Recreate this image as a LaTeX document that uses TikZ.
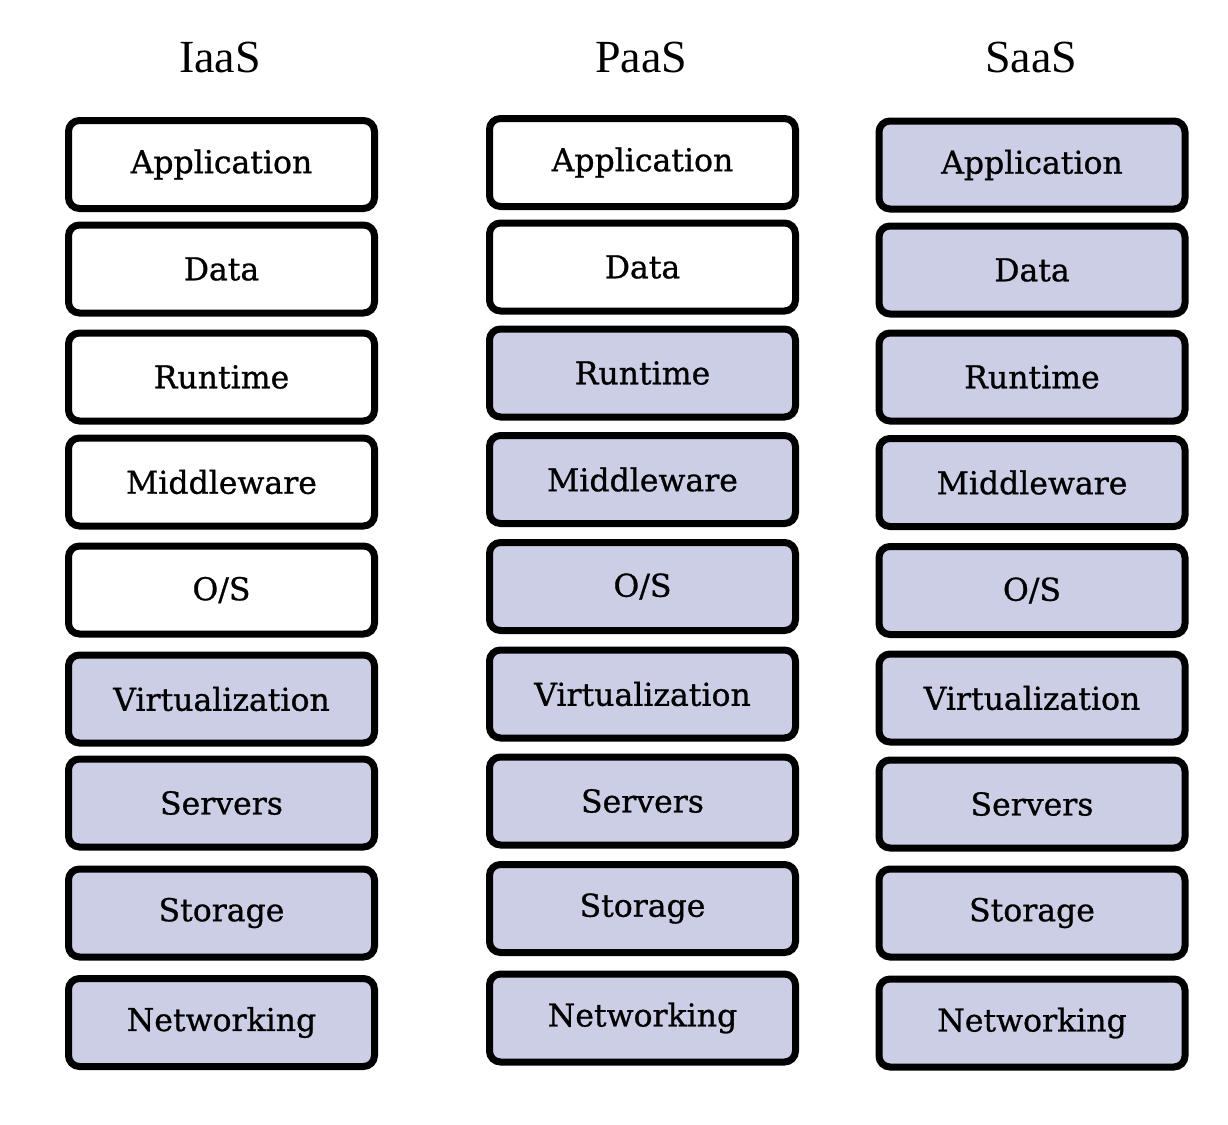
\documentclass[tikz,border=0pt]{standalone}
\usepackage{fontspec}
\setmainfont{DejaVu Serif}
\newfontfamily\boxfont[FakeBold=0.8]{DejaVu Serif}
\newfontfamily\titlefont{Liberation Serif}
\definecolor{lav}{RGB}{204,206,230}
\begin{document}
\begin{tikzpicture}[x=1pt,y=-1pt,
  box/.style={draw=black, line width=7pt, rounded corners=11pt,
    minimum width=306pt, minimum height=88pt, inner sep=0pt,
    font=\boxfont\fontsize{31.5}{33}\selectfont},
  mine/.style={box, fill=white},
  prov/.style={box, fill=lav},
  ttl/.style={font=\titlefont\fontsize{46}{48}\selectfont, inner sep=0pt}]
\useasboundingbox (0,0) rectangle (1228,1124);
\node[ttl] (tI) at (220,57) {IaaS};
\node[ttl] (tP) at (641,57) {PaaS};
\node[ttl] (tS) at (1031,57) {SaaS};
% IaaS
\node[mine] (i1) at (221.5,164.5) {Application};
\node[mine] (i2) at (221.5,269) {Data};
\node[mine] (i3) at (221.5,377) {Runtime};
\node[mine] (i4) at (221.5,482) {Middleware};
\node[mine] (i5) at (221.5,590) {O/S};
\node[prov] (i6) at (221.5,699) {Virtualization};
\node[prov] (i7) at (221.5,803) {Servers};
\node[prov] (i8) at (221.5,913) {Storage};
\node[prov] (i9) at (221.5,1022.5) {Networking};
% PaaS
\node[mine] (p1) at (642.5,162.5) {Application};
\node[mine] (p2) at (642.5,267) {Data};
\node[prov] (p3) at (642.5,373) {Runtime};
\node[prov] (p4) at (642.5,479.5) {Middleware};
\node[prov] (p5) at (642.5,586.5) {O/S};
\node[prov] (p6) at (642.5,694) {Virtualization};
\node[prov] (p7) at (642.5,801) {Servers};
\node[prov] (p8) at (642.5,908.5) {Storage};
\node[prov] (p9) at (642.5,1018) {Networking};
% SaaS
\node[prov] (s1) at (1032,165) {Application};
\node[prov] (s2) at (1032,270) {Data};
\node[prov] (s3) at (1032,377) {Runtime};
\node[prov] (s4) at (1032,482.5) {Middleware};
\node[prov] (s5) at (1032,590.5) {O/S};
\node[prov] (s6) at (1032,698) {Virtualization};
\node[prov] (s7) at (1032,804) {Servers};
\node[prov] (s8) at (1032,913) {Storage};
\node[prov] (s9) at (1032,1023) {Networking};
\end{tikzpicture}
\end{document}
